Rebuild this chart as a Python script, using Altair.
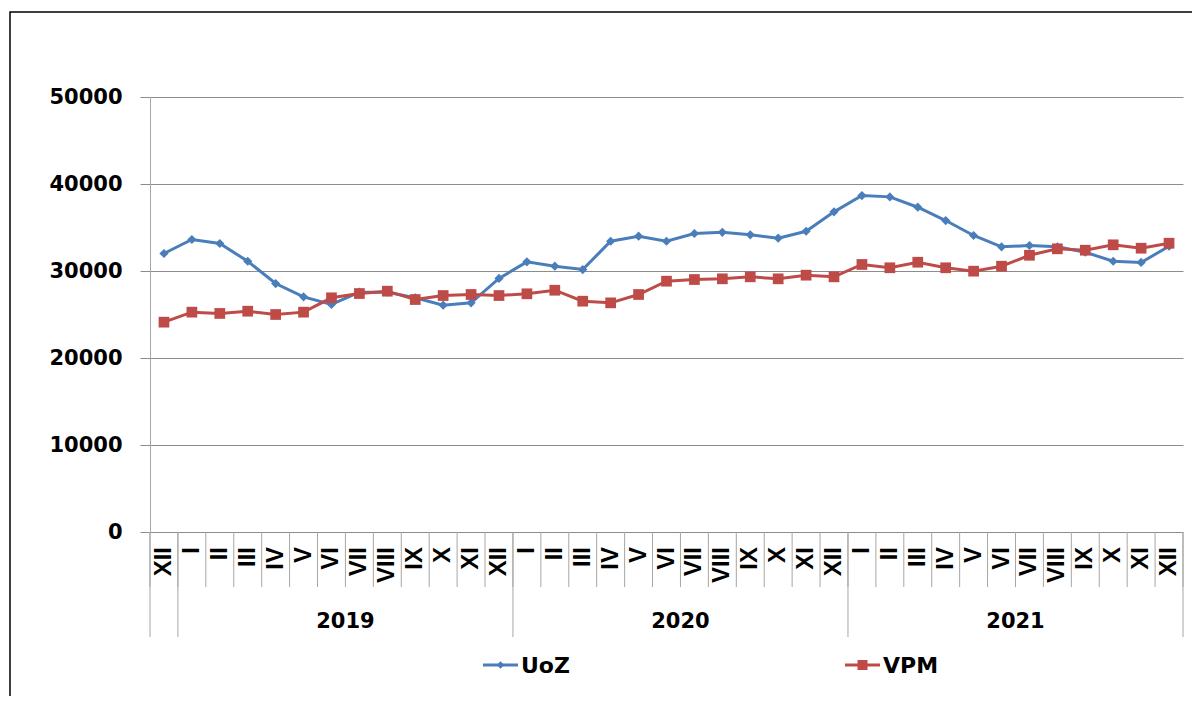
import altair as alt
import pandas as pd

# ---------------- data ----------------
MONTHS = ["XII"] + ["I", "II", "III", "IV", "V", "VI", "VII", "VIII", "IX", "X", "XI", "XII"] * 3
YEARS = ["2018"] + ["2019"] * 12 + ["2020"] * 12 + ["2021"] * 12
YEAR_LABELS = ["2019", "2020", "2021"]
SERIES = ["UoZ", "VPM"]

UOZ = [32010,
       33620, 33160, 31120, 28560, 27030, 26150, 27560, 27560, 26920, 26070, 26340, 29140,
       31050, 30550, 30170, 33420, 34000, 33420, 34310, 34450, 34160, 33770, 34570, 36800,
       38670, 38520, 37330, 35800, 34080, 32780, 32930, 32780, 32160, 31120, 30980, 32850]
VPM = [24120,
       25270, 25120, 25380, 25000, 25270, 26920, 27410, 27680, 26720, 27180, 27300, 27180,
       27380, 27790, 26530, 26340, 27300, 28830, 29020, 29100, 29330, 29100, 29520, 29330,
       30750, 30370, 31010, 30370, 29980, 30550, 31810, 32550, 32390, 33010, 32620, 33190]
Y_TICKS = [0, 10000, 20000, 30000, 40000, 50000]

# ---------------- layout / style ----------------
W, H = 1033, 435
COLORS = ["#4A7EBB", "#BE4B48"]
NUM_FONT = "DejaVu Sans"
ROMAN_FONT = "Liberation Sans"
GRID = "#8c8c8c"
SEP = "#a6a6a6"

n = len(MONTHS)
idx = list(range(n))
df = pd.DataFrame({
    "i": idx * 2,
    "month": MONTHS * 2,
    "series": [SERIES[0]] * n + [SERIES[1]] * n,
    "value": UOZ + VPM,
})
labels_df = pd.DataFrame({"i": idx, "month": MONTHS})
seps_df = pd.DataFrame({"b": [i - 0.5 for i in range(n + 1)]})
long_b = [-0.5] + [i - 0.5 for i in range(1, n) if YEARS[i] != YEARS[i - 1]] + [n - 0.5]
long_df = pd.DataFrame({"b": long_b})
year_df = pd.DataFrame({
    "year": YEAR_LABELS,
    "c": [sum(i for i in idx if YEARS[i] == y) / YEARS.count(y) for y in YEAR_LABELS],
})

xscale = alt.Scale(domain=[-0.5, n - 0.5], nice=False, zero=False)
yscale = alt.Scale(domain=[0, 50000], nice=False)
cscale = alt.Scale(domain=SERIES, range=COLORS)

x_i = alt.X("i:Q", scale=xscale, axis=None)

yaxis = alt.Axis(values=Y_TICKS, title=None, format="d", grid=True, gridColor=GRID,
                 gridWidth=1, domainColor=SEP, tickColor=GRID, tickSize=10,
                 labelFont=NUM_FONT, labelFontSize=21, labelFontWeight="bold",
                 labelColor="black", labelPadding=18)

frame = alt.Chart(pd.DataFrame({"a": [0]})).mark_rect(
    fillOpacity=0, stroke="black", strokeWidth=1.5
).encode(x=alt.value(-140), x2=alt.value(W + 200), y=alt.value(-85), y2=alt.value(H + 300))

lines = alt.Chart(df).mark_line(strokeWidth=3).encode(
    x=x_i,
    y=alt.Y("value:Q", scale=yscale, axis=yaxis),
    color=alt.Color("series:N", scale=cscale, legend=None),
)
points = alt.Chart(df).mark_point(filled=True, opacity=1).encode(
    x=x_i,
    y=alt.Y("value:Q", scale=yscale),
    color=alt.Color("series:N", scale=cscale, legend=None),
    shape=alt.Shape("series:N", scale=alt.Scale(domain=SERIES, range=["diamond", "square"]), legend=None),
    size=alt.Size("series:N", scale=alt.Scale(domain=SERIES, range=[85, 115]), legend=None),
)

short_rules = alt.Chart(seps_df).mark_rule(color=SEP, strokeWidth=1).encode(
    x=alt.X("b:Q", scale=xscale, axis=None), y=alt.value(H), y2=alt.value(H + 55))
long_rules = alt.Chart(long_df).mark_rule(color=SEP, strokeWidth=1).encode(
    x=alt.X("b:Q", scale=xscale, axis=None), y=alt.value(H), y2=alt.value(H + 105))

roman = alt.Chart(labels_df).mark_text(
    angle=270, align="right", baseline="middle", font=ROMAN_FONT, fontSize=24,
    fontWeight="bold", color="black"
).encode(x=x_i, y=alt.value(H + 15), text="month:N")

years = alt.Chart(year_df).mark_text(
    align="center", baseline="middle", font=NUM_FONT, fontSize=21, fontWeight="bold", color="black"
).encode(x=alt.X("c:Q", scale=xscale, axis=None), y=alt.value(H + 90), text="year:N")

legend_layers = []
LEG_X = [333, 695]
LEG_Y = H + 133
for k, name in enumerate(SERIES):
    one = pd.DataFrame({"a": [0]})
    lx = LEG_X[k]
    legend_layers.append(alt.Chart(one).mark_rule(color=COLORS[k], strokeWidth=3).encode(
        x=alt.value(lx), x2=alt.value(lx + 35), y=alt.value(LEG_Y)))
    legend_layers.append(alt.Chart(one).mark_point(
        filled=True, opacity=1, color=COLORS[k], shape=["diamond", "square"][k],
        size=[55, 100][k]).encode(x=alt.value(lx + 17.5), y=alt.value(LEG_Y)))
    legend_layers.append(alt.Chart(one).mark_text(
        align="left", baseline="middle", font=NUM_FONT, fontSize=22, fontWeight="bold",
        color="black").encode(x=alt.value(lx + 38), y=alt.value(LEG_Y + 1), text=alt.value(name)))

chart = alt.layer(
    frame, lines, points, short_rules, long_rules, roman, years, *legend_layers
).properties(
    width=W, height=H,
    autosize=alt.AutoSizeParams(type="none"),
    padding={"left": 142, "top": 89, "right": 9, "bottom": 164},
).configure_view(stroke=None)

chart.save("out.html", embed_options={"renderer": "svg", "actions": False})
